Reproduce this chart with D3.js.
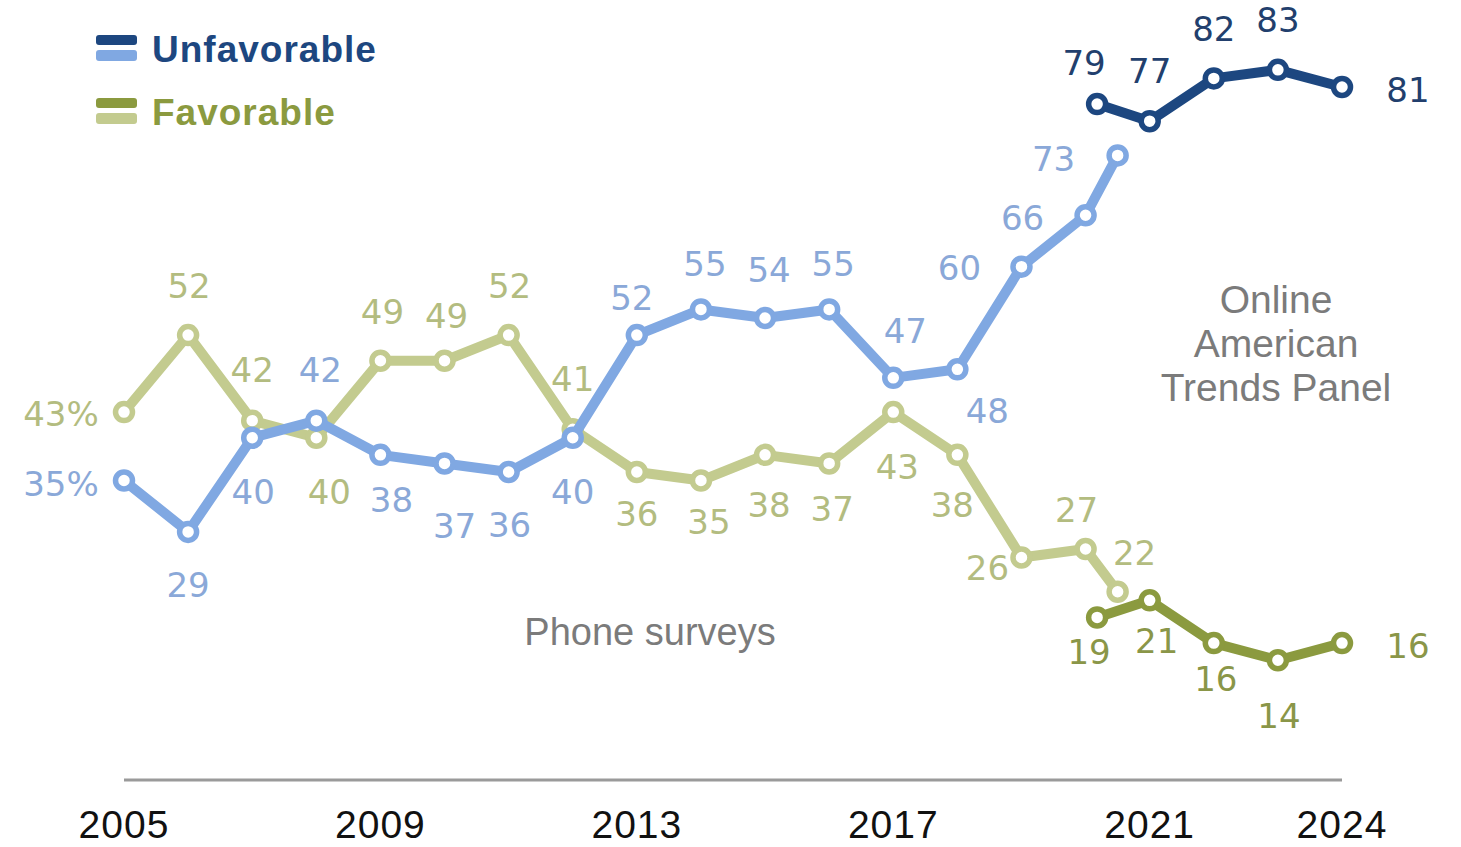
<!DOCTYPE html>
<html>
<head>
<meta charset="utf-8">
<script src="https://cdn.jsdelivr.net/npm/d3@7"></script>
<style>
  html, body { margin: 0; padding: 0; background: #fff; }
  svg { display: block; }
</style>
</head>
<body>
<svg id="chart" width="1461" height="847"></svg>
<script>
// ---- Data ----
const phoneYears = [2005, 2006, 2007, 2008, 2009, 2010, 2011, 2012, 2013, 2014, 2015, 2016, 2017, 2018, 2019, 2020, 2020.5];
const phoneUnfavorable = [35, 29, 40, 42, 38, 37, 36, 40, 52, 55, 54, 55, 47, 48, 60, 66, 73];
const phoneFavorable   = [43, 52, 42, 40, 49, 49, 52, 41, 36, 35, 38, 37, 43, 38, 26, 27, 22];

const onlineYears = [2020.18, 2021, 2022, 2023, 2024];
const onlineUnfavorable = [79, 77, 82, 83, 81];
const onlineFavorable   = [19, 21, 16, 14, 16];

const tickYears = [2005, 2009, 2013, 2017, 2021, 2024];
const tickLabels = ["2005", "2009", "2013", "2017", "2021", "2024"];

const legendLabels = ["Unfavorable", "Favorable"];

// ---- Label placement offsets (dx, dy from the point, label centre) ----
const phoneUnfavOffsets = [[-63,3],[0,53],[1,54],[4,-51],[11,45],[10,62],[1,53],[0,54],[-5,-38],[4,-46],[4,-48],[4,-46],[12,-47],[30,41],[-62,1],[-63,2],[-64,3]];
const phoneFavOffsets   = [[-63,1],[1,-50],[0,-51],[13,54],[2,-49],[2,-45],[1,-50],[0,-51],[0,42],[8,41],[4,50],[3,45],[4,54],[-5,50],[-34,10],[-9,-39],[17,-39]];
const onlineUnfavOffsets = [[-13,-42],[0,-51],[0,-50],[0,-50],[66,3]];
const onlineFavOffsets   = [[-8,34],[7,40],[2,35],[1,55],[66,2]];

// ---- Scales ----
const x = d3.scaleLinear().domain([2005, 2024]).range([124, 1342]);
const y = d3.scaleLinear().domain([0, 100]).range([780, 780 - 855.6]);

const svg = d3.select("#chart");

const colors = {
  unfavDark: "#1d4780", unfavLight: "#80a8e2",
  favDark: "#8b9a3f", favLight: "#c3cb8f",
  unfavDarkText: "#223f6d", unfavLightText: "#8aa8d8",
  favDarkText: "#8a9648", favLightText: "#b3bc80"
};

const labelFont = "'DejaVu Sans', Verdana, sans-serif";

// axis baseline
svg.append("line")
  .attr("x1", x(2005)).attr("x2", x(2024))
  .attr("y1", y(0)).attr("y2", y(0))
  .attr("stroke", "#9a9a9a").attr("stroke-width", 3);

// tick labels
svg.append("g").selectAll("text").data(tickYears).join("text")
  .attr("x", d => x(d)).attr("y", 838)
  .attr("text-anchor", "middle")
  .attr("font-family", "'Liberation Sans', Arial, sans-serif")
  .attr("font-size", 39)
  .attr("letter-spacing", 1)
  .attr("fill", "#111")
  .text((d, i) => tickLabels[i]);

function makeSeries(years, values) {
  return years.map((yr, i) => ({ yr, v: values[i], i }));
}

const series = [
  { data: makeSeries(phoneYears, phoneFavorable), color: colors.favLight, text: colors.favLightText, offsets: phoneFavOffsets, pct: true },
  { data: makeSeries(phoneYears, phoneUnfavorable), color: colors.unfavLight, text: colors.unfavLightText, offsets: phoneUnfavOffsets, pct: true },
  { data: makeSeries(onlineYears, onlineFavorable), color: colors.favDark, text: colors.favDarkText, offsets: onlineFavOffsets, pct: false },
  { data: makeSeries(onlineYears, onlineUnfavorable), color: colors.unfavDark, text: colors.unfavDarkText, offsets: onlineUnfavOffsets, pct: false }
];

// labels (drawn beneath lines)
const labelLayer = svg.append("g");
const lineLayer = svg.append("g");

series.forEach(s => {
  labelLayer.append("g").selectAll("text").data(s.data).join("text")
    .attr("x", d => x(d.yr) + s.offsets[d.i][0])
    .attr("y", d => y(d.v) + s.offsets[d.i][1] + 12.5)
    .attr("text-anchor", "middle")
    .attr("font-family", labelFont)
    .attr("font-size", 34)
    .attr("fill", s.text)
    .text(d => d.v + (s.pct && d.i === 0 ? "%" : ""));
});

const line = d3.line().x(d => x(d.yr)).y(d => y(d.v));

series.forEach(s => {
  const g = lineLayer.append("g");
  g.append("path")
    .datum(s.data)
    .attr("d", line)
    .attr("fill", "none")
    .attr("stroke", s.color)
    .attr("stroke-width", 10)
    .attr("stroke-linejoin", "round");
  g.selectAll("circle").data(s.data).join("circle")
    .attr("cx", d => x(d.yr)).attr("cy", d => y(d.v))
    .attr("r", 8.5)
    .attr("fill", "#fff")
    .attr("stroke", s.color)
    .attr("stroke-width", 5.5);
});

// annotations
svg.append("text")
  .attr("x", 650).attr("y", 645)
  .attr("text-anchor", "middle")
  .attr("font-family", "'Liberation Sans', Arial, sans-serif")
  .attr("font-size", 38)
  .attr("fill", "#7b7b7b")
  .text("Phone surveys");

const onlineLines = ["Online", "American", "Trends Panel"];
svg.append("g").selectAll("text").data(onlineLines).join("text")
  .attr("x", 1276).attr("y", (d, i) => 313 + i * 44)
  .attr("text-anchor", "middle")
  .attr("font-family", "'Liberation Sans', Arial, sans-serif")
  .attr("font-size", 39)
  .attr("fill", "#7b7b7b")
  .text(d => d);

// legend
const legendItems = [
  { label: legendLabels[0], dark: colors.unfavDark, light: colors.unfavLight, top: 35 },
  { label: legendLabels[1], dark: colors.favDark, light: colors.favLight, top: 98 }
];
const lg = svg.append("g");
legendItems.forEach(it => {
  lg.append("rect").attr("x", 96).attr("y", it.top).attr("width", 41).attr("height", 10).attr("rx", 3).attr("fill", it.dark);
  lg.append("rect").attr("x", 96).attr("y", it.top + 15).attr("width", 41).attr("height", 11).attr("rx", 3).attr("fill", it.light);
  lg.append("text")
    .attr("x", 152).attr("y", it.top + 27)
    .attr("font-family", "'Liberation Sans', Arial, sans-serif")
    .attr("font-weight", "bold")
    .attr("font-size", 37)
    .attr("letter-spacing", 1)
    .attr("fill", it.dark)
    .text(it.label);
});
</script>
</body>
</html>
